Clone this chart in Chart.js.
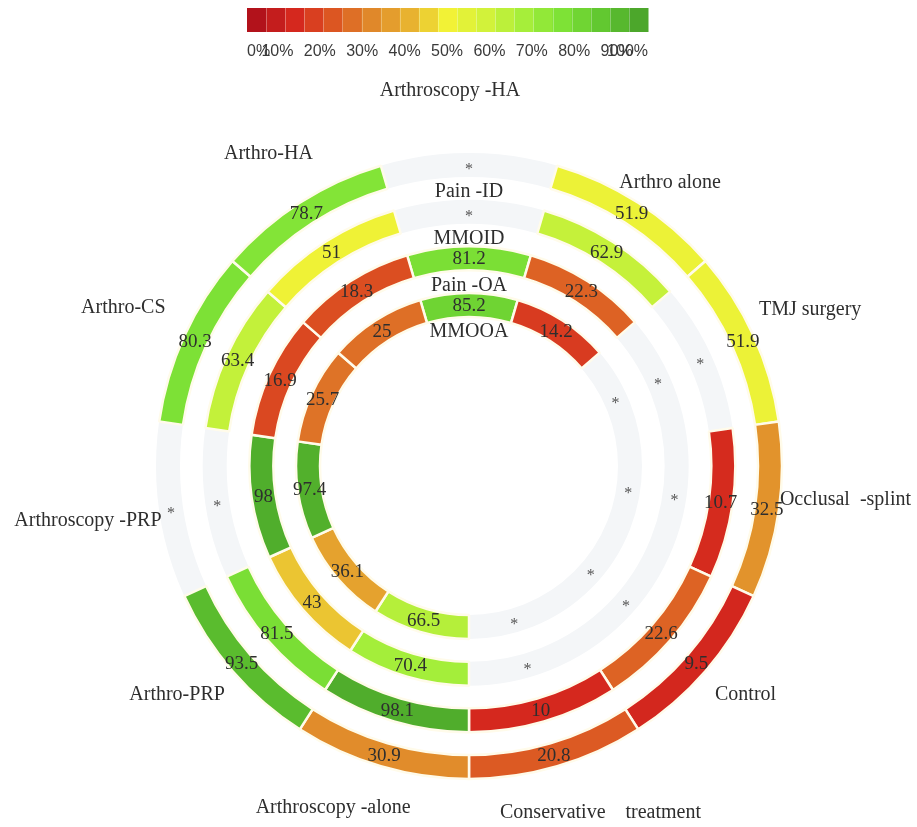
<!DOCTYPE html>
<html>
<head>
<meta charset="utf-8">
<script src="https://cdn.jsdelivr.net/npm/chart.js@4.4.1/dist/chart.umd.min.js"></script>
<style>
  html, body { margin: 0; padding: 0; background: #ffffff; }
  #wrap { width: 917px; height: 827px; position: relative; }
  canvas { display: block; }
</style>
</head>
<body>
<div id="wrap"><canvas id="sucra" width="917" height="827"></canvas></div>
<script>
// Treatments, clockwise from the top sector
const treatments = [
  'Arthroscopy -HA', 'Arthro alone', 'TMJ surgery', 'Occlusal  -splint', 'Control',
  'Conservative    treatment', 'Arthroscopy -alone', 'Arthro-PRP', 'Arthroscopy -PRP',
  'Arthro-CS', 'Arthro-HA'
];

// Outcomes, one ring each, from the outside in
const outcomes = ['Pain -ID', 'MMOID', 'Pain -OA', 'MMOOA'];

// SUCRA values (%) per treatment; null = not evaluated (*)
const painID = [null, 51.9, 51.9, 32.5, 9.5, 20.8, 30.9, 93.5, null, 80.3, 78.7];
const mmoID  = [null, 62.9, null, 10.7, 22.6, 10, 98.1, 81.5, null, 63.4, 51];
const painOA = [81.2, 22.3, null, null, null, null, 70.4, 43, 98, 16.9, 18.3];
const mmoOA  = [85.2, 14.2, null, null, null, null, 66.5, 36.1, 97.4, 25.7, 25];

// Colour scale ticks (%)
const scaleTicks = [0, 10, 20, 30, 40, 50, 60, 70, 80, 90, 100];

// ---- styling / layout ----
const COLOR_STOPS = [
  [0, [178, 18, 27]], [10, [213, 40, 30]], [20, [220, 86, 34]], [30, [224, 136, 42]],
  [40, [232, 178, 48]], [50, [242, 242, 54]], [60, [210, 242, 58]], [70, [166, 238, 58]],
  [80, [126, 226, 54]], [90, [98, 200, 48]], [100, [76, 167, 43]]
];
function sucraColor(v) {
  if (v <= COLOR_STOPS[0][0]) return rgb(COLOR_STOPS[0][1]);
  for (let i = 1; i < COLOR_STOPS.length; i++) {
    const [v1, c1] = COLOR_STOPS[i];
    const [v0, c0] = COLOR_STOPS[i - 1];
    if (v <= v1) {
      const t = (v - v0) / (v1 - v0);
      return rgb(c0.map((c, k) => c + (c1[k] - c) * t));
    }
  }
  return rgb(COLOR_STOPS[COLOR_STOPS.length - 1][1]);
}
function rgb(a) { return 'rgb(' + a.map(x => Math.round(x)).join(',') + ')'; }

const RING_W = 24;
const GAP_W = 22.67;
const SERIF = '"Liberation Serif", "Times New Roman", serif';
const TEXT = '#2e2e2e';
const TRACK = '#f4f6f8';

// Where each treatment name sits: [angle shift from sector centre (deg), distance from centre]
const nameAnchor = [
  [-2.9, 376], [2.7, 347], [0, 375], [-3, 378], [-1.3, 359], [-4.4, 371],
  [5.3, 368], [2.8, 371], [0, 385], [0, 380], [0, 371]
];

const rings = [painID, mmoID, painOA, mmoOA];
const datasets = [];
rings.forEach((vals, i) => {
  if (i > 0) {
    datasets.push({
      data: treatments.map(() => 1), weight: GAP_W, spacer: true,
      backgroundColor: 'rgba(0,0,0,0)', borderWidth: 0
    });
  }
  datasets.push({
    label: outcomes[i],
    data: treatments.map(() => 1),
    sucra: vals,
    weight: RING_W,
    backgroundColor: ctx => vals[ctx.dataIndex] == null ? 'rgba(0,0,0,0)' : sucraColor(vals[ctx.dataIndex]),
    borderColor: '#fffbea',
    borderWidth: ctx => vals[ctx.dataIndex] == null ? 0 : 2.5
  });
});

const sector = 360 / treatments.length;

function polar(cx, cy, deg, r) {
  const a = (deg - 90) * Math.PI / 180;
  return [cx + r * Math.cos(a), cy + r * Math.sin(a)];
}

const decorations = {
  id: 'decorations',
  beforeDatasetsDraw(chart) {
    const ctx = chart.ctx;
    chart.data.datasets.forEach((ds, di) => {
      if (ds.spacer) return;
      const meta = chart.getDatasetMeta(di);
      const arc = meta.data[0];
      const r = (arc.innerRadius + arc.outerRadius) / 2;
      ctx.save();
      ctx.strokeStyle = TRACK;
      ctx.lineWidth = arc.outerRadius - arc.innerRadius;
      ctx.beginPath();
      ctx.arc(arc.x, arc.y, r, 0, Math.PI * 2);
      ctx.stroke();
      ctx.restore();
    });
  },
  afterDatasetsDraw(chart) {
    const ctx = chart.ctx;
    let cx = 0, cy = 0;
    ctx.save();
    chart.data.datasets.forEach((ds, di) => {
      if (ds.spacer) return;
      const meta = chart.getDatasetMeta(di);
      meta.data.forEach((arc, j) => {
        const p = arc.getCenterPoint();
        const v = ds.sucra[j];
        ctx.fillStyle = TEXT;
        ctx.textAlign = 'center';
        if (v == null) {
          ctx.font = '16px ' + SERIF;
          ctx.fillStyle = '#555';
          ctx.textBaseline = 'alphabetic';
          ctx.fillText('*', p.x, p.y + 9);
        } else {
          ctx.font = '19px ' + SERIF;
          ctx.textBaseline = 'middle';
          ctx.fillText(String(v), p.x, p.y + 1);
        }
      });
      // outcome name just inside the ring, at the top
      const a0 = meta.data[0];
      cx = a0.x; cy = a0.y;
      const rMid = (a0.innerRadius + a0.outerRadius) / 2;
      ctx.font = '20px ' + SERIF;
      ctx.fillStyle = TEXT;
      ctx.textBaseline = 'middle';
      ctx.textAlign = 'center';
      ctx.fillText(ds.label, cx, cy - rMid + 27);
    });

    // treatment names around the rings
    ctx.font = '20px ' + SERIF;
    ctx.fillStyle = TEXT;
    ctx.textAlign = 'center';
    ctx.textBaseline = 'middle';
    treatments.forEach((name, j) => {
      const [dA, r] = nameAnchor[j];
      const [x, y] = polar(cx, cy, j * sector + dA, r);
      ctx.fillText(name, x, y);
    });

    // colour scale
    const bx0 = 247, bx1 = 648, by0 = 8, by1 = 32;
    const cells = 21;
    const cw = (bx1 - bx0) / cells;
    for (let i = 0; i < cells; i++) {
      ctx.fillStyle = sucraColor(i * 100 / (cells - 1));
      ctx.fillRect(bx0 + i * cw, by0, cw + 0.5, by1 - by0);
    }
    ctx.strokeStyle = 'rgba(255,255,255,0.3)';
    ctx.lineWidth = 1;
    for (let i = 1; i < cells; i++) {
      const x = Math.round(bx0 + i * cw) + 0.5;
      ctx.beginPath(); ctx.moveTo(x, by0); ctx.lineTo(x, by1); ctx.stroke();
    }
    ctx.font = '16px "Liberation Sans", Arial, sans-serif';
    ctx.fillStyle = '#3a3a3a';
    ctx.textBaseline = 'middle';
    ctx.textAlign = 'center';
    scaleTicks.forEach(t => {
      const txt = t + '%';
      const w = ctx.measureText(txt).width;
      let x = 235 + t * 4.24;
      x = Math.max(bx0 + w / 2, Math.min(bx1 - w / 2, x));
      ctx.fillText(txt, x, 52);
    });
    ctx.restore();
  }
};

new Chart(document.getElementById('sucra'), {
  type: 'doughnut',
  data: { labels: treatments, datasets },
  options: {
    responsive: false,
    animation: false,
    events: [],
    devicePixelRatio: 1,
    rotation: -sector / 2,
    radius: 313,
    cutout: '47.6%',
    layout: { padding: { left: 21, right: 0, top: 105, bottom: 0 } },
    plugins: { legend: { display: false }, tooltip: { enabled: false }, title: { display: false } }
  },
  plugins: [decorations]
});
</script>
</body>
</html>
